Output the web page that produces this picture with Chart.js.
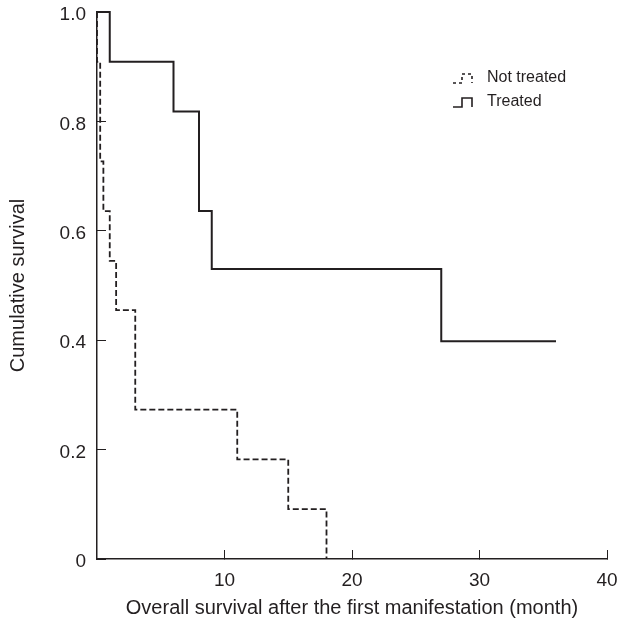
<!DOCTYPE html>
<html><head><meta charset="utf-8">
<script src="https://cdn.jsdelivr.net/npm/chart.js@4/dist/chart.umd.min.js"></script>
<style>html,body{margin:0;padding:0;background:#fff}#wrap{width:619px;height:622px;position:relative}</style>
</head><body><div id="wrap"><canvas id="c"></canvas></div>
<script>
const seriesNames = ['Not treated', 'Treated'];
const notTreatedMonths = [0, 0, 0.25, 0.5, 1.0, 1.5, 3.0, 11.0, 15.0, 18.0];
const notTreatedSurvival = [1.0, 0.909, 0.727, 0.636, 0.545, 0.455, 0.273, 0.182, 0.091, 0];
const treatedMonths = [0, 1.0, 6.0, 8.0, 9.0, 27.0, 36.0];
const treatedSurvival = [1.0, 0.909, 0.818, 0.636, 0.530, 0.398, 0.398];
const xTickValues = [10, 20, 30, 40];
const xTickLabels = ['10', '20', '30', '40'];
const yTickValues = [0, 0.2, 0.4, 0.6, 0.8, 1.0];
const yTickLabels = ['0', '0.2', '0.4', '0.6', '0.8', '1.0'];
const xTitle = 'Overall survival after the first manifestation (month)';
const yTitle = 'Cumulative survival';

const INK = '#231f20';
const FONT = "'Liberation Sans Narrow', 'Liberation Sans', Arial, sans-serif";

function toPoints(xs, ys) { return xs.map((x, i) => ({ x: x, y: ys[i] })); }

const legendPlugin = {
  id: 'stepLegend',
  afterDraw(chart) {
    const ctx = chart.ctx;
    const x0 = 453, ys = [78, 102];
    chart.data.datasets.forEach((ds, i) => {
      const yc = ys[i];
      ctx.save();
      ctx.strokeStyle = ds.borderColor;
      ctx.lineWidth = 1.6;
      ctx.setLineDash(ds.borderDash && ds.borderDash.length ? [3, 3] : []);
      ctx.beginPath();
      ctx.moveTo(x0, yc + 5);
      ctx.lineTo(x0 + 9, yc + 5);
      ctx.lineTo(x0 + 9, yc - 4);
      ctx.lineTo(x0 + 19, yc - 4);
      ctx.lineTo(x0 + 19, yc + 5);
      ctx.stroke();
      ctx.setLineDash([]);
      ctx.fillStyle = INK;
      ctx.font = '16px ' + FONT;
      ctx.textBaseline = 'middle';
      ctx.textAlign = 'left';
      ctx.fillText(ds.label, 487, yc);
      ctx.restore();
    });
  }
};

function zeroPad(s) { s.paddingTop = 0; s.paddingBottom = 0; s.paddingLeft = 0; s.paddingRight = 0; }

new Chart(document.getElementById('c'), {
  type: 'line',
  data: {
    datasets: [
      { label: seriesNames[0], data: toPoints(notTreatedMonths, notTreatedSurvival),
        stepped: true, borderColor: INK, borderWidth: 1.8, borderDash: [6, 3],
        pointRadius: 0, fill: false, clip: false },
      { label: seriesNames[1], data: toPoints(treatedMonths, treatedSurvival),
        stepped: true, borderColor: INK, borderWidth: 2, borderDash: [],
        pointRadius: 0, fill: false, clip: false }
    ]
  },
  plugins: [legendPlugin],
  options: {
    responsive: true,
    maintainAspectRatio: false,
    animation: false,
    layout: { padding: { left: 0, right: 12, top: 12, bottom: 0 } },
    plugins: { legend: { display: false }, tooltip: { enabled: false } },
    scales: {
      x: {
        type: 'linear', min: 0, max: 40, position: 'bottom',
        afterBuildTicks: s => { s.ticks = xTickValues.map(v => ({ value: v })); },
        afterFit: s => { s.height = 63; zeroPad(s); },
        ticks: { callback: v => xTickLabels[xTickValues.indexOf(v)], font: { size: 19, family: FONT },
                 color: INK, padding: 19, maxRotation: 0, autoSkip: false },
        grid: { drawOnChartArea: false, drawTicks: true, tickLength: -9, color: INK, lineWidth: 1 },
        border: { display: true, color: INK, width: 1.5 },
        title: { display: true, text: xTitle, font: { size: 20, family: FONT }, color: INK, padding: { top: 0, bottom: 2 } }
      },
      y: {
        type: 'linear', min: 0, max: 1, position: 'left',
        afterBuildTicks: s => { s.ticks = yTickValues.map(v => ({ value: v })); },
        afterFit: s => { s.width = 97; zeroPad(s); },
        ticks: { callback: v => yTickLabels[yTickValues.indexOf(v)], font: { size: 19, family: FONT },
                 color: INK, padding: 20, autoSkip: false, labelOffset: 3 },
        grid: { drawOnChartArea: false, drawTicks: true, tickLength: -9, color: INK, lineWidth: 1 },
        border: { display: true, color: INK, width: 1.5 },
        title: { display: true, text: yTitle, font: { size: 20, family: FONT }, color: INK, padding: { top: 6, bottom: 0 } }
      }
    }
  }
});
</script>
</body></html>
